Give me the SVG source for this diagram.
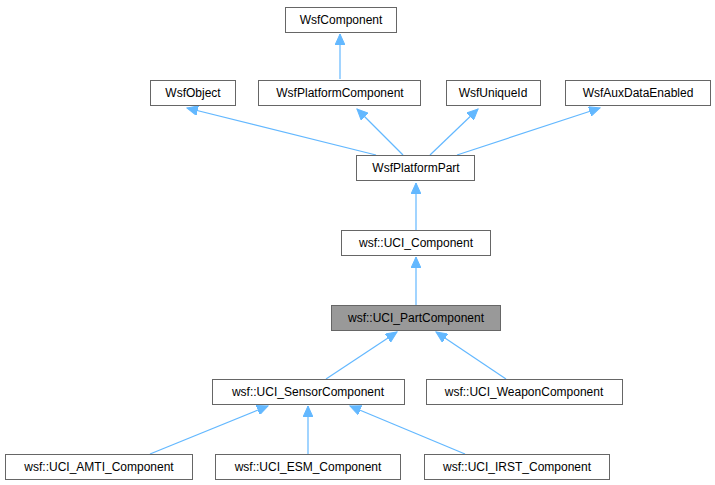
<svg xmlns="http://www.w3.org/2000/svg" width="715" height="485" viewBox="0 0 715 485">
<style>
.n rect{fill:#fff;stroke:#666;stroke-width:1}
.n.h rect{fill:#999;stroke:#666}
.n text{font-family:"Liberation Sans",Arial,sans-serif;font-size:12px;fill:#000;text-anchor:middle}
#edges line{stroke:#63b8ff;stroke-width:1.2}
</style>
<defs>
<marker id="a" markerWidth="12" markerHeight="10" refX="11" refY="5" orient="auto" markerUnits="userSpaceOnUse">
<path d="M0,0 L11,5 L0,10 Z" fill="#63b8ff" stroke="#63b8ff"/>
</marker>
</defs>
<rect width="715" height="485" fill="#fff"/>
<g id="edges">
<line x1="340" y1="79" x2="340" y2="34" marker-end="url(#a)"/>
<line x1="376" y1="155" x2="187" y2="108" marker-end="url(#a)"/>
<line x1="403" y1="155" x2="357" y2="109" marker-end="url(#a)"/>
<line x1="430" y1="155" x2="478" y2="109" marker-end="url(#a)"/>
<line x1="457" y1="155" x2="600" y2="108" marker-end="url(#a)"/>
<line x1="416" y1="230" x2="416" y2="183" marker-end="url(#a)"/>
<line x1="416" y1="305" x2="416" y2="257" marker-end="url(#a)"/>
<line x1="326" y1="379" x2="397" y2="332" marker-end="url(#a)"/>
<line x1="506" y1="379" x2="436" y2="332" marker-end="url(#a)"/>
<line x1="150" y1="454" x2="268" y2="406" marker-end="url(#a)"/>
<line x1="308" y1="454" x2="308" y2="406" marker-end="url(#a)"/>
<line x1="465" y1="454" x2="350" y2="406" marker-end="url(#a)"/>
</g>
<g id="n1" class="n"><rect x="285.5" y="7.5" width="111" height="25"/><text x="341" y="24">WsfComponent</text></g>
<g id="n2" class="n"><rect x="150.5" y="80.5" width="85" height="25"/><text x="193" y="97">WsfObject</text></g>
<g id="n3" class="n"><rect x="258.5" y="80.5" width="162" height="25"/><text x="340" y="97">WsfPlatformComponent</text></g>
<g id="n4" class="n"><rect x="446.5" y="80.5" width="94" height="25"/><text x="493" y="97">WsfUniqueId</text></g>
<g id="n5" class="n"><rect x="565.5" y="80.5" width="145" height="25"/><text x="638" y="97">WsfAuxDataEnabled</text></g>
<g id="n6" class="n"><rect x="356.5" y="155.5" width="118" height="25"/><text x="416" y="172">WsfPlatformPart</text></g>
<g id="n7" class="n"><rect x="341.5" y="230.5" width="149" height="25"/><text x="416" y="247">wsf::UCI_Component</text></g>
<g id="n8" class="n h"><rect x="331.5" y="305.5" width="169" height="25"/><text x="416" y="322">wsf::UCI_PartComponent</text></g>
<g id="n9" class="n"><rect x="212.5" y="379.5" width="192" height="25"/><text x="308" y="396">wsf::UCI_SensorComponent</text></g>
<g id="n10" class="n"><rect x="426.5" y="379.5" width="196" height="25"/><text x="524" y="396">wsf::UCI_WeaponComponent</text></g>
<g id="n11" class="n"><rect x="5.5" y="454.5" width="187" height="25"/><text x="99" y="471">wsf::UCI_AMTI_Component</text></g>
<g id="n12" class="n"><rect x="215.5" y="454.5" width="185" height="25"/><text x="308" y="471">wsf::UCI_ESM_Component</text></g>
<g id="n13" class="n"><rect x="424.5" y="454.5" width="185" height="25"/><text x="517" y="471">wsf::UCI_IRST_Component</text></g>
</svg>
